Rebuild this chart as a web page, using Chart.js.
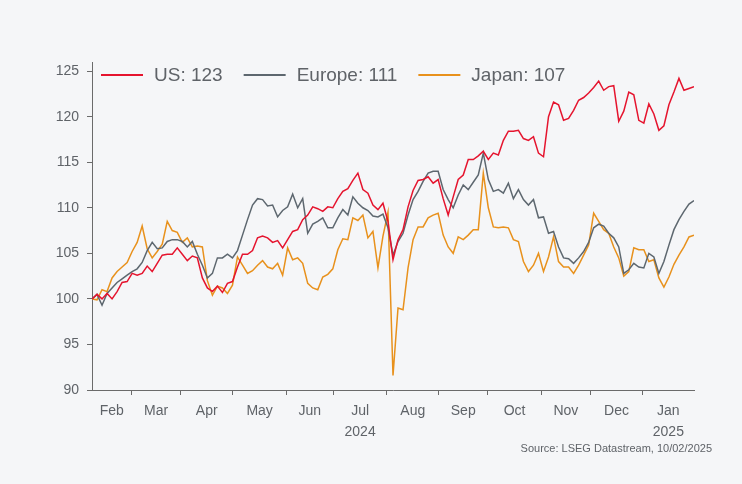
<!DOCTYPE html>
<html>
<head>
<meta charset="utf-8">
<script src="https://cdn.jsdelivr.net/npm/chart.js@4.4.1/dist/chart.umd.min.js"></script>
<style>
  body { margin: 0; background: #f5f6f8; }
  #wrap { width: 742px; height: 484px; }
</style>
</head>
<body>
<div id="wrap"><canvas id="chart" width="742" height="484"></canvas></div>
<script>
// Rebased equity indices (start = 100), sampled roughly every two trading days, Feb 2024 - Feb 2025
const us = [
  100.0, 100.5, 100.0, 100.6, 100.0, 100.8, 101.8, 101.9, 102.8, 102.6,
  102.8, 103.6, 103.0, 103.9, 104.8, 104.9, 104.9, 105.6, 104.9, 104.2,
  104.7, 104.5, 102.3, 101.2, 100.8, 101.4, 100.7, 101.7, 101.9, 103.5,
  104.9, 104.9, 105.3, 106.7, 106.9, 106.7, 106.2, 106.4, 105.6, 106.5,
  107.4, 107.6, 108.7, 109.2, 110.1, 109.9, 109.6, 110.1, 110.0, 111.0,
  111.8, 112.1, 113.0, 113.8, 112.0, 111.6, 110.3, 109.8, 110.5, 108.5,
  104.3, 106.5, 107.6, 110.1, 111.9, 113.0, 113.1, 113.4, 112.7, 113.1,
  111.0, 109.2, 111.2, 113.1, 113.6, 115.3, 115.3, 115.7, 116.2, 115.3,
  116.0, 115.8, 117.4, 118.4, 118.4, 118.5, 117.6, 117.4, 117.8, 116.0,
  115.6, 120.0, 121.6, 121.3, 119.6, 119.8, 120.7, 121.8, 122.1, 122.6,
  123.2, 123.9, 122.9, 123.3, 123.4, 119.5, 120.6, 122.7, 122.4, 119.6,
  119.3, 121.4, 120.3, 118.5, 119.0, 121.3, 122.7, 124.2, 122.9, 123.1,
  123.3
];
const europe = [
  100.0, 100.5, 99.3, 100.6, 101.2, 101.8, 102.2, 102.6, 103.0, 103.3,
  104.0, 105.3, 106.2, 105.5, 105.6, 106.3, 106.5, 106.5, 106.3, 105.7,
  106.3, 104.9, 103.7, 102.3, 102.8, 104.5, 104.5, 104.9, 104.5, 105.3,
  107.0, 108.7, 110.3, 111.0, 110.9, 110.2, 110.3, 109.0, 109.7, 110.1,
  111.5, 110.0, 111.0, 107.2, 108.2, 108.5, 108.9, 107.8, 107.8, 108.9,
  109.8, 109.2, 111.2, 110.5, 110.0, 109.7, 109.1, 109.0, 109.3, 107.8,
  104.8, 106.3, 107.2, 109.2, 110.9, 111.8, 112.9, 113.8, 114.0, 114.0,
  112.0, 110.9, 110.0, 111.4, 112.5, 112.0, 112.8, 113.6, 116.0, 113.1,
  111.8, 112.0, 111.6, 112.7, 111.0, 112.0, 110.9, 110.3, 110.9, 108.9,
  109.0, 107.2, 107.4, 105.7, 104.5, 104.4, 103.9, 104.5, 105.2, 106.2,
  107.8, 108.2, 108.0, 107.2, 106.7, 105.7, 102.8, 103.2, 103.9, 103.5,
  103.4, 105.0, 104.6, 102.8, 104.1, 105.9, 107.6, 108.7, 109.6, 110.4,
  110.8
];
const japan = [
  100.0, 99.9, 101.0, 100.8, 102.3, 103.0, 103.5, 104.0, 105.2, 106.2,
  108.0, 105.5, 104.5, 105.2, 106.0, 108.5, 107.5, 107.3, 106.2, 106.7,
  105.7, 105.8, 105.7, 102.0, 100.4, 101.4, 101.2, 100.6, 101.5, 104.6,
  103.7, 102.8, 103.1, 103.7, 104.2, 103.5, 103.3, 103.9, 102.6, 105.6,
  104.3, 104.5, 103.9, 101.7, 101.2, 101.0, 102.4, 102.7, 103.3, 105.4,
  106.6, 106.5, 108.9, 108.6, 109.2, 106.7, 107.4, 103.4, 106.9, 109.5,
  91.6, 99.0, 98.8, 103.4, 106.5, 107.9, 107.9, 108.9, 109.2, 109.4,
  107.0, 105.7, 105.0, 106.8, 106.5, 107.0, 107.6, 107.6, 113.8, 110.0,
  107.9, 107.8, 107.9, 107.8, 106.5, 106.3, 104.1, 103.0, 103.7, 105.0,
  103.0, 104.6, 106.8, 104.1, 103.5, 103.5, 102.8, 103.7, 104.8, 105.9,
  109.4, 108.5, 107.6, 107.2, 105.7, 104.5, 102.5, 103.0, 105.6, 105.4,
  105.4, 104.1, 104.3, 102.3, 101.3, 102.4, 103.8, 104.8, 105.7, 106.8,
  107.0
];

// month names and the sample index where each month begins
const monthNames = ['Feb', 'Mar', 'Apr', 'May', 'Jun', 'Jul', 'Aug', 'Sep', 'Oct', 'Nov', 'Dec', 'Jan'];
const monthStarts = [0, 7.87, 17.66, 28.08, 38.75, 48.10, 58.78, 69.11, 78.89, 89.56, 99.34, 109.77];
const yearUnder = { Jul: '2024', Jan: '2025' };

const seriesNames = ['US', 'Europe', 'Japan'];
const seriesColors = ['#e5142e', '#5d676f', '#e8911c'];
const yMin = 90, yMax = 126, yStep = 5;
const sourceText = 'Source: LSEG Datastream, 10/02/2025';

const lastIdx = us.length - 1;
const xIndex = us.map((v, i) => i);
const boundaries = monthStarts.slice(1);
const labelCentres = monthStarts.map((s, i) => (s + (i < monthStarts.length - 1 ? monthStarts[i + 1] : lastIdx)) / 2);

const FONT = "'Liberation Sans', Arial, sans-serif";
const AXIS = '#6b6b6b';
const TEXT = '#5f6368';

function isBoundary(v) { return boundaries.some(b => Math.abs(b - v) < 1e-6); }

const legendPlugin = {
  id: 'insideLegend',
  afterDraw(chart) {
    const c = chart.ctx;
    c.save();
    c.font = '19px ' + FONT;
    c.textBaseline = 'middle';
    let x = 101, y = 75;
    chart.data.datasets.forEach(ds => {
      c.strokeStyle = ds.borderColor;
      c.lineWidth = 1.8;
      c.beginPath(); c.moveTo(x, y); c.lineTo(x + 42, y); c.stroke();
      c.fillStyle = TEXT;
      c.fillText(ds.label, x + 53, y + 1);
      x += 53 + c.measureText(ds.label).width + 21;
    });
    c.font = '11px ' + FONT;
    c.textAlign = 'right';
    c.fillText(sourceText, 712, 449);
    c.restore();
  }
};

const bgPlugin = {
  id: 'bg',
  beforeDraw(chart) {
    const c = chart.ctx;
    c.save();
    c.fillStyle = '#f5f6f8';
    c.fillRect(0, 0, chart.width, chart.height);
    c.restore();
  }
};

const values = [us, europe, japan];
const datasets = values.map((arr, k) => ({
  label: seriesNames[k] + ': ' + Math.round(arr[arr.length - 1]),
  data: arr.map((v, i) => ({ x: xIndex[i], y: v })),
  borderColor: seriesColors[k],
  borderWidth: 1.5,
  pointRadius: 0,
  tension: 0,
  fill: false
}));

new Chart(document.getElementById('chart'), {
  type: 'line',
  data: { datasets: datasets },
  options: {
    responsive: false,
    animation: false,
    layout: { padding: { left: 0, right: 48, top: 62, bottom: 0 } },
    plugins: { legend: { display: false }, tooltip: { enabled: false } },
    scales: {
      x: {
        type: 'linear',
        min: 0,
        max: lastIdx,
        afterFit(scale) { scale.height = 94; },
        afterBuildTicks(scale) {
          scale.ticks = boundaries.concat(labelCentres)
            .sort((a, b) => a - b)
            .map(v => ({ value: v }));
        },
        grid: {
          drawOnChartArea: false,
          tickLength: 5,
          tickColor: ctx => (ctx.tick && isBoundary(ctx.tick.value)) ? AXIS : 'rgba(0,0,0,0)'
        },
        border: { color: AXIS, width: 1 },
        ticks: {
          autoSkip: false,
          maxRotation: 0,
          padding: 6,
          color: TEXT,
          font: { family: FONT, size: 14, lineHeight: 1.5 },
          callback(value) {
            const k = labelCentres.findIndex(c => Math.abs(c - value) < 1e-6);
            if (k < 0) return '';
            const name = monthNames[k];
            return yearUnder[name] ? [name, yearUnder[name]] : name;
          }
        }
      },
      y: {
        min: yMin,
        max: yMax,
        afterFit(scale) { scale.width = 92; },
        grid: { drawOnChartArea: false, tickLength: 5, tickColor: AXIS },
        border: { color: AXIS, width: 1 },
        ticks: {
          stepSize: yStep,
          includeBounds: false,
          padding: 8,
          color: TEXT,
          font: { family: FONT, size: 14 }
        }
      }
    }
  },
  plugins: [bgPlugin, legendPlugin]
});
</script>
</body>
</html>
